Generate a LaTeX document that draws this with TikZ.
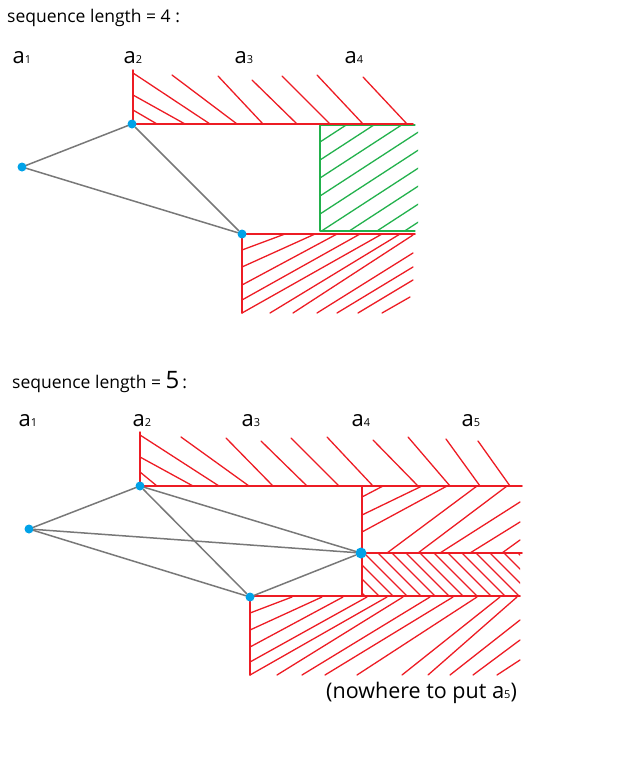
\documentclass[tikz,border=0pt]{standalone}
\usepackage{fontspec}
\setmainfont{Open Sans}
\definecolor{hatchred}{RGB}{237,28,36}
\definecolor{hatchgreen}{RGB}{34,177,76}
\definecolor{edgegray}{RGB}{120,120,120}
\definecolor{dotblue}{RGB}{0,162,232}
\newcommand\elt[1]{{\fontsize{22}{22}\selectfont a}{\fontsize{11}{11}\selectfont #1}}
\tikzset{
  wall/.style={hatchred, line width=1.5pt},
  hatch/.style={hatchred, line width=1.3pt},
  ghatch/.style={hatchgreen, line width=1.3pt},
  edge/.style={edgegray, line width=1.5pt},
  dot/.style={circle, fill=dotblue, inner sep=0pt, minimum size=9pt},
  lbl/.style={inner sep=0pt},
}
\begin{document}
\begin{tikzpicture}[x=1pt, y=-1pt, line cap=round, line join=round]
    \useasboundingbox (0,0) rectangle (621,768);
    % sequence length 4
    \node[lbl, anchor=west, font=\fontsize{17.5}{17.5}\selectfont] (title4) at (7,18) {sequence length = 4 :};
    \foreach \i/\x in {1/22,2/133,3/244,4/354} \node[lbl] (ta\i) at (\x,58) {\elt{\i}};
    \foreach \xa/\ya/\xb in {133/110/157, 133/95/185, 133/73/210, 172/75/237, 218/76/263, 252/80/297, 282/76/330, 317/75/363, 363/77/407}
      \draw[hatch] (\xa,\ya) -- (\xb,124);
    \begin{scope}
      \clip (320,125) rectangle (418,231);
      \foreach \c in {142,160,...,304} \draw[ghatch] (320,\c) -- ++(130,-84.5);
    \end{scope}
    \draw[ghatch] (415,125) -- (320,125) -- (320,231) -- (415,231);
    \foreach \xa/\ya/\xb/\yb in {242/250/285/234, 242/267/315/234, 242/285/337/234, 242/300/360/234, 242/313/382/234, 270/313/400/234, 293/313/413/235, 317/313/413/253, 337/313/413/267, 358/313/413/280, 382/313/410/297}
      \draw[hatch] (\xa,\ya) -- (\xb,\yb);
    \draw[wall] (133,70) -- (133,124) -- (413,124);
    \draw[wall] (415,234) -- (242,234) -- (242,313);
    \node[dot] (p1) at (22,167) {};
    \node[dot] (p2) at (132,124) {};
    \node[dot] (p3) at (242,234) {};
    \draw[edge] (p1) -- (p2) -- (p3) -- (p1);
    % sequence length 5
    \node[lbl, anchor=west, font=\fontsize{17.5}{17.5}\selectfont] (title5) at (12,382) {sequence length = {\fontsize{24}{24}\selectfont 5}\,:};
    \foreach \i/\x in {1/28,2/142,3/251,4/361,5/471} \node[lbl] (tb\i) at (\x,421) {\elt{\i}};
    \foreach \xa/\ya/\xb in {140/472/157, 140/457/193, 140/435/219, 181/437/249, 226/438/273, 261/441/307, 291/438/339, 327/437/373, 373/440/418, 408/437/450, 446/439/480, 478/441/510}
      \draw[hatch] (\xa,\ya) -- (\xb,486);
    \foreach \xa/\ya/\xb/\yb in {362/497/383/486, 362/515/422/486, 362/532/447/486, 387/553/477/486, 418/553/507/486, 440/553/520/502, 470/553/520/522, 502/553/520/540}
      \draw[hatch] (\xa,\ya) -- (\xb,\yb);
    \begin{scope}
      \clip (362,553) rectangle (520,596);
      \foreach \k in {-40,-26,...,160} \draw[hatch] (362+\k,553) -- ++(60,60);
    \end{scope}
    \foreach \xa/\ya/\xb/\yb in {250/613/292/597, 250/630/322/597, 250/647/343/597, 250/662/367/597, 250/675/387/597, 277/675/403/597, 302/675/430/597, 325/675/453/597, 357/675/477/597, 402/675/500/597, 428/675/517/597, 450/675/520/620, 473/675/520/640, 497/675/520/660}
      \draw[hatch] (\xa,\ya) -- (\xb,\yb);
    \draw[wall] (140,432) -- (140,486) -- (522,486);
    \draw[wall] (362,486) -- (362,596);
    \draw[wall] (362,553) -- (522,553);
    \draw[wall] (520,596) -- (250,596) -- (250,675);
    \node[dot] (q1) at (29,529) {};
    \node[dot] (q2) at (140,486) {};
    \node[dot] (q3) at (250,597) {};
    \node[dot, minimum size=11pt] (q4) at (361,553) {};
    \draw[edge] (q1) -- (q2) -- (q3) -- (q1);
    \draw[edge] (q1) -- (q4);
    \draw[edge] (q2) -- (q4) -- (q3);
    \node[lbl, anchor=west, font=\fontsize{21.5}{21.5}\selectfont] (note) at (326,693) {(nowhere to put \elt{5})};
\end{tikzpicture}
\end{document}
